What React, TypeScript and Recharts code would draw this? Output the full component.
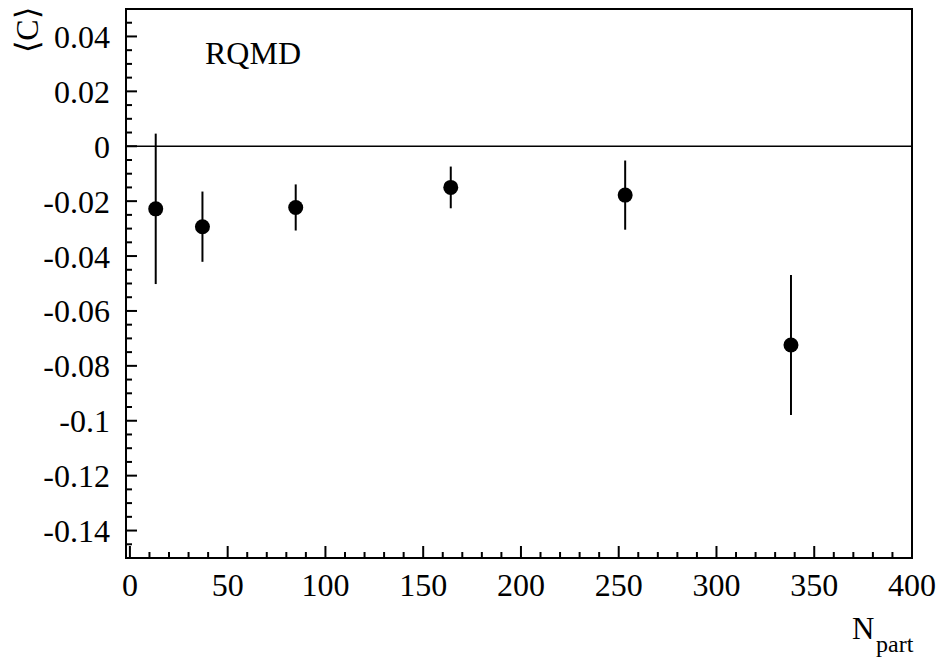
import React from 'react'
import {
  ComposedChart,
  Scatter,
  XAxis,
  YAxis,
  ErrorBar,
  ReferenceLine,
  ReferenceArea,
} from 'recharts'

// RQMD <C> vs N_part
const nPart = [13.2, 37.1, 84.8, 164.1, 253.3, 338.1]
const meanC = [-0.0228, -0.0293, -0.0223, -0.015, -0.0178, -0.0724]
const errC = [0.0274, 0.0128, 0.0084, 0.0076, 0.0126, 0.0255]

const xMajorTicks = [0, 50, 100, 150, 200, 250, 300, 350, 400]
const yMajorTicks = [0.04, 0.02, 0, -0.02, -0.04, -0.06, -0.08, -0.1, -0.12, -0.14]

const xMinorTicks: number[] = []
for (let i = 0; i <= 40; i++) xMinorTicks.push(i * 10)
const yMinorTicks: number[] = []
for (let i = -30; i <= 10; i++) yMinorTicks.push(Math.round(i * 5) / 1000)

const FONT = "'Liberation Serif', 'Times New Roman', serif"
const textStyle = { fontFamily: FONT, fontSize: 32, fill: '#000' }

const data = nPart.map((x, i) => ({ x, y: meanC[i], err: errC[i] }))

const isMajorY = (v: number) => yMajorTicks.some(t => Math.abs(t - v) < 1e-6)
const isMajorX = (v: number) => xMajorTicks.some(t => Math.abs(t - v) < 1e-6)

function YTick(props: any) {
  const { x, y, payload } = props
  const v = payload.value
  const major = isMajorY(v)
  const axisX = x + 16
  return (
    <g>
      <line x1={axisX} x2={axisX + (major ? 11 : 6)} y1={y} y2={y} stroke="#000" strokeWidth={2} />
      {major && (
        <text x={x} y={y} dy="0.36em" textAnchor="end" style={textStyle}>
          {Math.abs(v) < 1e-9 ? '0' : String(Math.round(v * 100) / 100)}
        </text>
      )}
    </g>
  )
}

function XTick(props: any) {
  const { x, y, payload } = props
  const v = payload.value
  const major = isMajorX(v)
  const axisY = y - 38
  return (
    <g>
      <line x1={x} x2={x} y1={axisY} y2={axisY - (major ? 12 : 6)} stroke="#000" strokeWidth={2} />
      {major && (
        <text x={x} y={y} textAnchor="middle" style={textStyle}>
          {String(v)}
        </text>
      )}
    </g>
  )
}

const Dot = (props: any) => <circle cx={props.cx} cy={props.cy} r={7.5} fill="#000" />

export default function App() {
  return (
    <div style={{ position: 'absolute', left: 0, top: 0, width: 940, height: 657, background: '#fff', fontFamily: FONT }}>
      <ComposedChart
        width={940}
        height={657}
        data={data}
        margin={{ top: 9, right: 28, bottom: 0, left: 0 }}
        style={{ fontFamily: FONT }}
      >
        <XAxis
          dataKey="x"
          type="number"
          domain={[-2, 400]}
          ticks={xMinorTicks}
          allowDataOverflow
          height={99}
          tickSize={0}
          tickMargin={38}
          tickLine={false}
          axisLine={{ stroke: '#000', strokeWidth: 2 }}
          tick={<XTick />}
          interval={0}
        />
        <YAxis
          dataKey="y"
          type="number"
          domain={[-0.15, 0.05]}
          ticks={yMinorTicks}
          allowDataOverflow
          width={126}
          tickSize={0}
          tickMargin={16}
          tickLine={false}
          axisLine={{ stroke: '#000', strokeWidth: 2 }}
          tick={<YTick />}
          interval={0}
        />
        <ReferenceArea
          x1={-2}
          x2={400}
          y1={-0.15}
          y2={0.05}
          fill="none"
          stroke="#000"
          strokeWidth={2}
        />
        <ReferenceLine y={0} stroke="#000" strokeWidth={1.5} />
        <Scatter dataKey="y" fill="#000" shape={Dot} isAnimationActive={false}>
          <ErrorBar dataKey="err" direction="y" width={0} stroke="#000" strokeWidth={2} />
        </Scatter>
      </ComposedChart>
      <svg
        width={940}
        height={657}
        style={{ position: 'absolute', left: 0, top: 0, pointerEvents: 'none' }}
      >
        <text x={205} y={64} style={textStyle}>RQMD</text>
        <text x={852} y={639} style={{ ...textStyle, fontSize: 31 }}>N</text>
        <text x={876} y={652} style={{ ...textStyle, fontSize: 24 }}>part</text>
        <text x={0} y={0} transform="translate(38 30) rotate(-90)" textAnchor="middle" style={textStyle}>
          ⟨C⟩
        </text>
      </svg>
    </div>
  )
}
